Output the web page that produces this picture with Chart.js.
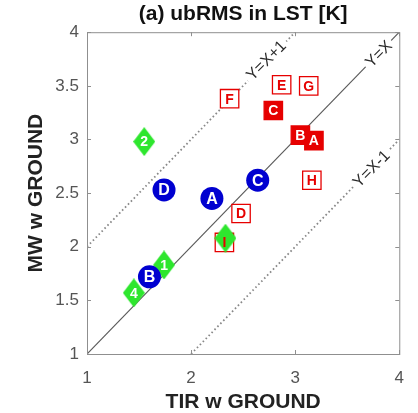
<!DOCTYPE html>
<html>
<head>
<meta charset="utf-8">
<script src="https://cdn.jsdelivr.net/npm/chart.js@4.4.1/dist/chart.umd.min.js"></script>
<style>
  html, body { margin: 0; padding: 0; background: #fff; }
  #wrap { width: 418px; height: 413px; }
</style>
</head>
<body>
<div id="wrap"><canvas id="chart"></canvas></div>
<script>
// red squares (filled = solid red, otherwise open)
const redLabels = ["B", "A", "C", "D", "E", "F", "G", "H", "I"];
const redX = [3.05, 3.18, 2.79, 2.48, 2.87, 2.37, 3.13, 3.16, 2.32];
const redY = [3.04, 2.99, 3.27, 2.31, 3.51, 3.38, 3.50, 2.62, 2.04];
const redFilled = [true, true, true, false, false, false, false, false, false];

// blue circles
const blueLabels = ["A", "B", "C", "D"];
const blueX = [2.20, 1.60, 2.64, 1.74];
const blueY = [2.45, 1.72, 2.62, 2.53];

// green diamonds (third one's number is hidden under a red letter)
const greenLabels = ["1", "2", "", "4"];
const greenX = [1.74, 1.55, 2.33, 1.45];
const greenY = [1.83, 2.98, 2.08, 1.57];

// reference lines y = x + k
const lineOffsets = [0, 1, -1];
const lineNames = ["Y=X", "Y=X+1", "Y=X-1"];

const xTicks = [1, 2, 3, 4];
const yTicks = [1, 1.5, 2, 2.5, 3, 3.5, 4];

const RED = "#e60000";
const BLUE = "#0000d0";
const GREEN = "#2ee62e";
const FONT = "'Liberation Sans', Arial, sans-serif";

function pts(xs, ys) {
  return xs.map((x, i) => ({ x: x, y: ys[i] }));
}

function diamond(w, h, color) {
  const c = document.createElement("canvas");
  c.width = w;
  c.height = h;
  const g = c.getContext("2d");
  g.fillStyle = color;
  g.beginPath();
  g.moveTo(w / 2, 0);
  g.lineTo(w, h / 2);
  g.lineTo(w / 2, h);
  g.lineTo(0, h / 2);
  g.closePath();
  g.fill();
  return c;
}

const lineSets = lineOffsets.map((k) => {
  const x0 = Math.max(1, 1 - k), x1 = Math.min(4, 4 - k);
  return {
    data: [{ x: x0, y: x0 + k }, { x: x1, y: x1 + k }],
    showLine: true,
    pointRadius: 0,
    borderColor: k === 0 ? "#5a5a5a" : "#888",
    borderWidth: k === 0 ? 1.2 : 1.8,
    borderDash: k === 0 ? [] : [1.6, 2.6],
    order: 10,
  };
});

const redSet = {
  data: pts(redX, redY),
  pointStyle: "rect",
  pointRadius: 13,
  backgroundColor: redFilled.map((f) => (f ? RED : "#fff")),
  borderColor: RED,
  borderWidth: 1.3,
  order: 3,
  marks: redLabels,
  markColor: redFilled.map((f) => (f ? "#fff" : RED)),
  markFont: "bold 14px " + FONT,
};

const greenSet = {
  data: pts(greenX, greenY),
  pointStyle: diamond(22, 29, GREEN),
  order: 2,
  marks: greenLabels,
  markColor: greenLabels.map(() => "#fff"),
  markFont: "bold 14px " + FONT,
};

const blueSet = {
  data: pts(blueX, blueY),
  pointStyle: "circle",
  pointRadius: 11.5,
  backgroundColor: BLUE,
  borderWidth: 0,
  order: 1,
  marks: blueLabels,
  markColor: blueLabels.map(() => "#fff"),
  markFont: "bold 16px " + FONT,
};

const extras = {
  id: "extras",
  afterDatasetsDraw(chart) {
    const ctx = chart.ctx;
    const xs = chart.scales.x, ys = chart.scales.y;
    const a = chart.chartArea;

    // line labels sitting on the lines
    const spots = [[3.80, 3.80], [2.72, 3.74], [3.73, 2.73]];
    ctx.save();
    ctx.font = "16px " + FONT;
    ctx.textAlign = "center";
    ctx.textBaseline = "middle";
    lineNames.forEach((name, i) => {
      const px = xs.getPixelForValue(spots[i][0]);
      const py = ys.getPixelForValue(spots[i][1]);
      const w = ctx.measureText(name).width;
      ctx.save();
      ctx.translate(px, py);
      ctx.rotate(-Math.PI / 4);
      ctx.fillStyle = "#fff";
      ctx.fillRect(-w / 2 - 3, -7, w + 6, 14);
      ctx.fillStyle = "#2a2a2a";
      ctx.fillText(name, 0, 1);
      ctx.restore();
    });
    ctx.restore();

    // letters / numbers on the markers
    ctx.save();
    ctx.textAlign = "center";
    ctx.textBaseline = "middle";
    [redSet, greenSet, blueSet].forEach((ds) => {
      const idx = chart.data.datasets.indexOf(ds);
      const meta = chart.getDatasetMeta(idx);
      ctx.font = ds.markFont;
      meta.data.forEach((p, j) => {
        if (!ds.marks[j]) return;
        ctx.fillStyle = ds.markColor[j];
        ctx.fillText(ds.marks[j], p.x, p.y + 1);
      });
    });
    ctx.restore();

    // box with inward ticks
    ctx.save();
    ctx.strokeStyle = "#8f8f8f";
    ctx.lineWidth = 1;
    ctx.strokeRect(a.left + 0.5, a.top + 0.5, a.right - a.left, a.bottom - a.top);
    ctx.beginPath();
    xTicks.forEach((v) => {
      const px = Math.round(xs.getPixelForValue(v)) + 0.5;
      ctx.moveTo(px, a.bottom); ctx.lineTo(px, a.bottom - 4);
      ctx.moveTo(px, a.top); ctx.lineTo(px, a.top + 4);
    });
    yTicks.forEach((v) => {
      const py = Math.round(ys.getPixelForValue(v)) + 0.5;
      ctx.moveTo(a.left, py); ctx.lineTo(a.left + 4, py);
      ctx.moveTo(a.right, py); ctx.lineTo(a.right - 4, py);
    });
    ctx.stroke();
    ctx.restore();
  },
};

new Chart(document.getElementById("chart"), {
  type: "scatter",
  data: { datasets: [...lineSets, redSet, greenSet, blueSet] },
  options: {
    responsive: true,
    maintainAspectRatio: false,
    animation: false,
    layout: { padding: { left: 0, right: 8, top: 0, bottom: 0 } },
    plugins: {
      legend: { display: false },
      tooltip: { enabled: false },
      title: {
        display: true,
        text: "(a) ubRMS in LST [K]",
        fullSize: false,
        color: "#111",
        font: { family: FONT, size: 21, weight: "bold" },
        padding: { top: 2, bottom: 5 },
      },
    },
    scales: {
      x: {
        type: "linear",
        min: 1,
        max: 4,
        afterBuildTicks: (s) => { s.ticks = xTicks.map((v) => ({ value: v })); },
        afterFit: (s) => { s.height = 59; },
        grid: { display: false, drawTicks: false },
        border: { display: false },
        ticks: {
          color: "#555",
          padding: 14,
          font: { family: FONT, size: 17 },
          callback: (v) => String(v),
        },
        title: {
          display: true,
          text: "TIR w GROUND",
          color: "#222",
          font: { family: FONT, size: 21, weight: "bold" },
          padding: { top: 0, bottom: -2 },
        },
      },
      y: {
        type: "linear",
        min: 1,
        max: 4,
        afterBuildTicks: (s) => { s.ticks = yTicks.map((v) => ({ value: v })); },
        afterFit: (s) => { s.width = 87; },
        grid: { display: false, drawTicks: false },
        border: { display: false },
        ticks: {
          color: "#555",
          padding: 8,
          font: { family: FONT, size: 17 },
          callback: (v) => String(v),
        },
        title: {
          display: true,
          text: "MW w GROUND",
          color: "#222",
          font: { family: FONT, size: 21, weight: "bold" },
          padding: { top: 24, bottom: 0 },
        },
      },
    },
  },
  plugins: [extras],
});
</script>
</body>
</html>
